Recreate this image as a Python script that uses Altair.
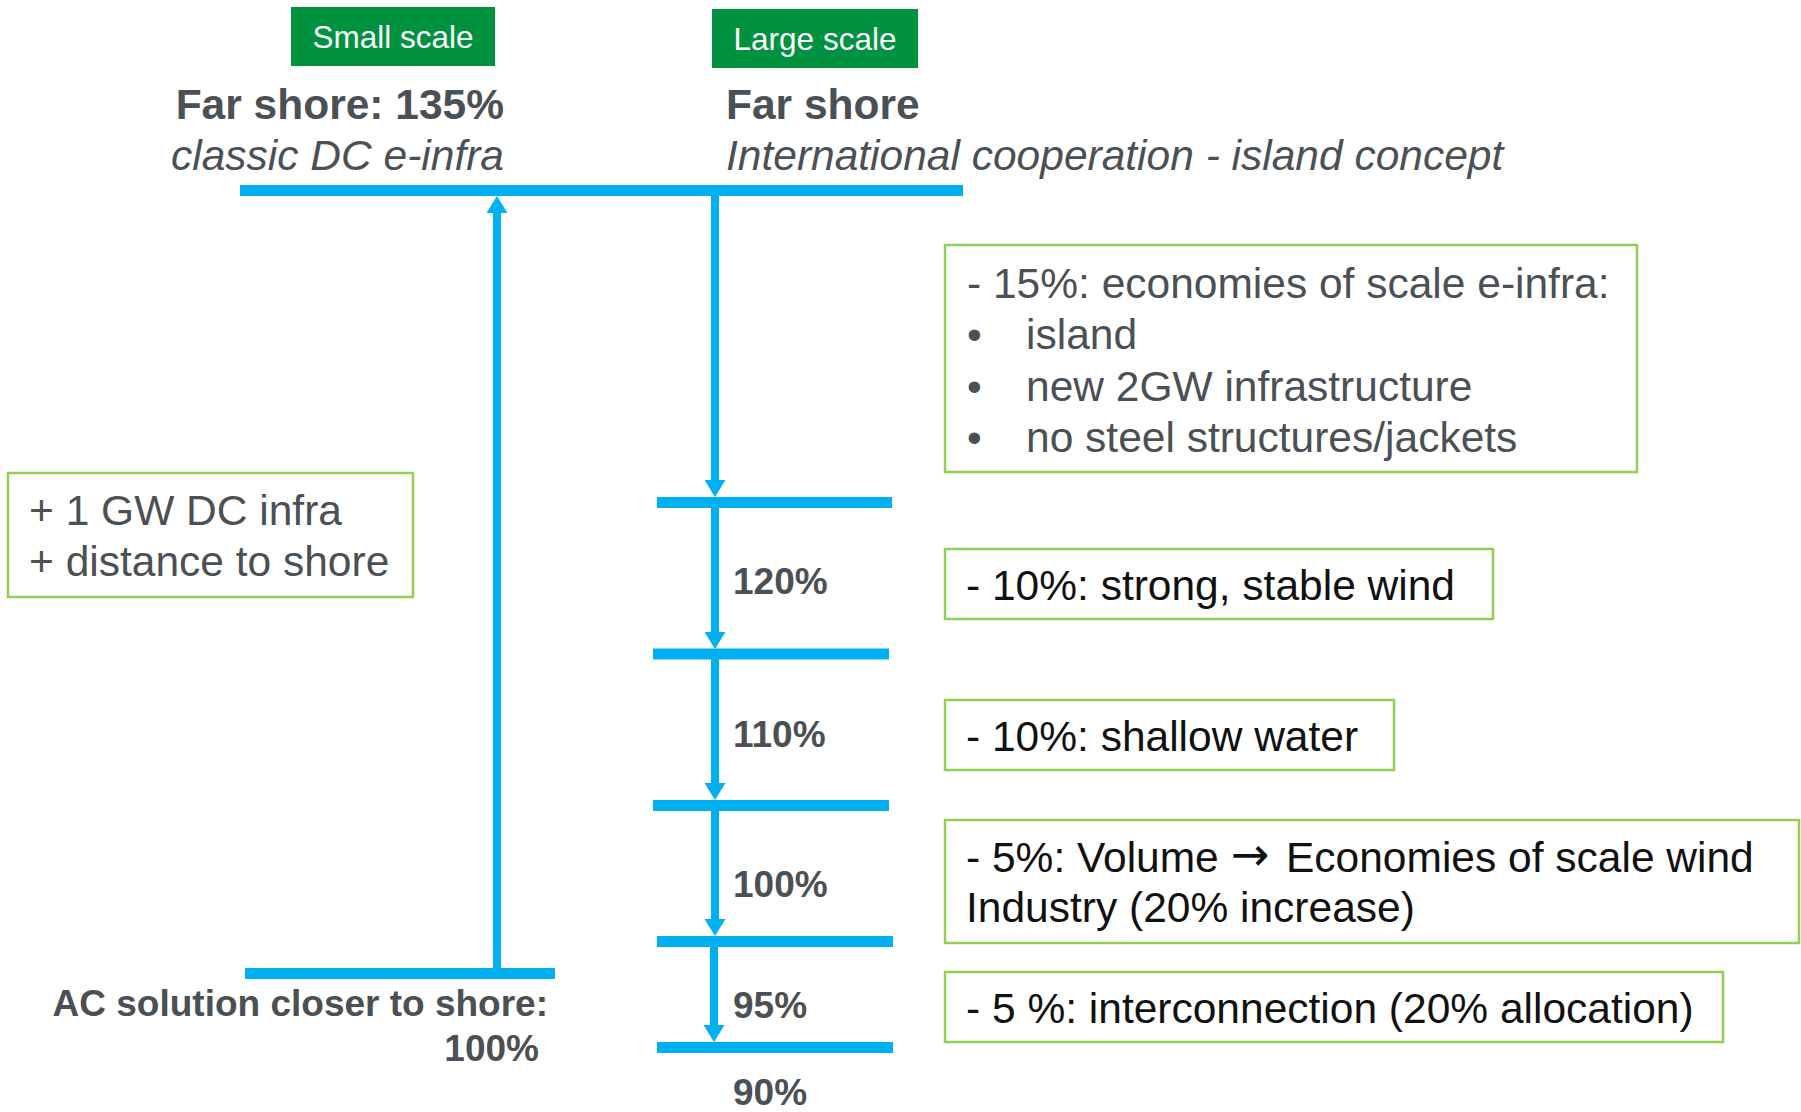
import altair as alt
import pandas as pd

W, H = 1801, 1112
FONT = "Liberation Sans"
BLUE = "#00B0F0"
GREEN = "#00923F"
LGREEN = "#92D050"
GRAY = "#4B5055"
BLACK = "#111111"

# ---------------- texts / data ----------------
tag_labels = ["Small scale", "Large scale"]
title_left = "Far shore: 135%"
subtitle_left = "classic DC e-infra"
title_right = "Far shore"
subtitle_right = "International cooperation - island concept"
level_labels = ["120%", "110%", "100%", "95%", "90%"]
base_labels = ["AC solution closer to shore:", "100%"]
left_box_lines = ["+ 1 GW DC infra", "+ distance to shore"]
box1_head = "- 15%: economies of scale e-infra:"
box1_bullets = ["island", "new 2GW infrastructure", "no steel structures/jackets"]
box_texts = ["- 10%: strong, stable wind", "- 10%: shallow water",
             "Industry (20% increase)", "- 5 %: interconnection (20% allocation)"]
volume_parts = ["- 5%: Volume", "\u2192", "Economies of scale wind"]

# ---------------- layout (pixel positions) ----------------
hline_x = [240, 657, 653, 653, 657, 657, 245]
hline_x2 = [963, 892, 889, 889, 893, 893, 555]
hline_y = [190.5, 502.5, 654, 805.5, 941.5, 1047.5, 973.5]

stem_x = [497, 715, 715, 715, 715, 714]
stem_y = [968, 196, 508, 659, 811, 947]
stem_y2 = [212, 485, 636, 787, 923, 1030]

down_tip_x = [715, 715, 715, 715, 714]
down_tip_y = [497, 649, 800, 936, 1042]
up_tip_x = [497]
up_tip_y = [196]

box_x = [945, 8, 945, 945, 945, 945]
box_x2 = [1637, 413, 1493, 1394, 1799, 1723]
box_y = [245, 473, 549, 700, 820, 972]
box_y2 = [472, 597, 619, 770, 943, 1042]

tag_x = [291, 712]
tag_x2 = [495, 918]
tag_y = [7, 9]
tag_y2 = [66, 68]

XS = alt.Scale(domain=[0, W], range=[0, W], nice=False, zero=False)
YS = alt.Scale(domain=[0, H], range=[0, H], nice=False, zero=False)


def xq(f="x"):
    return alt.X(f + ":Q", scale=XS, axis=None)


def yq(f="y"):
    return alt.Y(f + ":Q", scale=YS, axis=None)


def text_layer(xs, ys, texts, size, color, weight="normal", style="normal", align="left", font=FONT):
    df = pd.DataFrame({"x": xs, "y": ys, "t": texts})
    return alt.Chart(df).mark_text(
        font=font, fontSize=size, color=color, fontWeight=weight,
        fontStyle=style, align=align, baseline="alphabetic"
    ).encode(x=xq(), y=yq(), text="t:N")


boxes = alt.Chart(pd.DataFrame({"x": box_x, "x2": box_x2, "y": box_y, "y2": box_y2})).mark_rect(
    fill="white", stroke=LGREEN, strokeWidth=2.5
).encode(x=xq(), x2="x2:Q", y=yq(), y2="y2:Q")

tags = alt.Chart(pd.DataFrame({"x": tag_x, "x2": tag_x2, "y": tag_y, "y2": tag_y2})).mark_rect(
    fill=GREEN
).encode(x=xq(), x2="x2:Q", y=yq(), y2="y2:Q")

hlines = alt.Chart(pd.DataFrame({"x": hline_x, "x2": hline_x2, "y": hline_y})).mark_rule(
    color=BLUE, strokeWidth=11, strokeCap="butt"
).encode(x=xq(), x2="x2:Q", y=yq())

stems = alt.Chart(pd.DataFrame({"x": stem_x, "y": stem_y, "y2": stem_y2})).mark_rule(
    color=BLUE, strokeWidth=8, strokeCap="butt"
).encode(x=xq(), y=yq(), y2="y2:Q")

AH = 17.0
down_heads = alt.Chart(pd.DataFrame({"x": down_tip_x, "y": [v - AH / 2 for v in down_tip_y]})).mark_point(
    shape="M-1,-0.8L1,-0.8L0,0.8Z", size=441, filled=True, fill=BLUE, opacity=1, strokeWidth=0
).encode(x=xq(), y=yq())

up_heads = alt.Chart(pd.DataFrame({"x": up_tip_x, "y": [v + AH / 2 for v in up_tip_y]})).mark_point(
    shape="M-1,0.8L1,0.8L0,-0.8Z", size=441, filled=True, fill=BLUE, opacity=1, strokeWidth=0
).encode(x=xq(), y=yq())

layers = [
    boxes, tags, hlines, stems, down_heads, up_heads,
    text_layer([393, 815], [47.5, 49.5], tag_labels, 31.5, "white", align="center"),
    text_layer([504], [119], [title_left], 42.5, GRAY, weight="bold", align="right"),
    text_layer([504], [170], [subtitle_left], 42.5, GRAY, style="italic", align="right"),
    text_layer([726], [119], [title_right], 42.5, GRAY, weight="bold"),
    text_layer([726], [170], [subtitle_right], 42.5, GRAY, style="italic"),
    text_layer([733] * 5, [594, 747, 897, 1018, 1105], level_labels, 37, GRAY, weight="bold"),
    text_layer([548, 539], [1016, 1061], base_labels, 37, GRAY, weight="bold", align="right"),
    text_layer([29, 29], [525, 576], left_box_lines, 42.5, GRAY),
    text_layer([967], [297.5], [box1_head], 42.5, GRAY),
    text_layer([967] * 3, [349, 401, 451.5], ["\u2022"] * 3, 42, GRAY),
    text_layer([1026] * 3, [349, 401, 451.5], box1_bullets, 42.5, GRAY),
    text_layer([966, 966, 966, 966], [600, 751, 922, 1023], box_texts, 42.5, BLACK),
    text_layer([966, 1286], [872, 872], [volume_parts[0], volume_parts[2]], 42.5, BLACK),
    text_layer([1231], [870], [volume_parts[1]], 46, BLACK, font="DejaVu Sans"),
]

chart = alt.layer(*layers).properties(
    width=W, height=H, padding=0, background="white",
    autosize=alt.AutoSizeParams(type="none")
).configure_view(stroke=None)

chart.save("out.html", embed_options={"renderer": "svg", "actions": False})
